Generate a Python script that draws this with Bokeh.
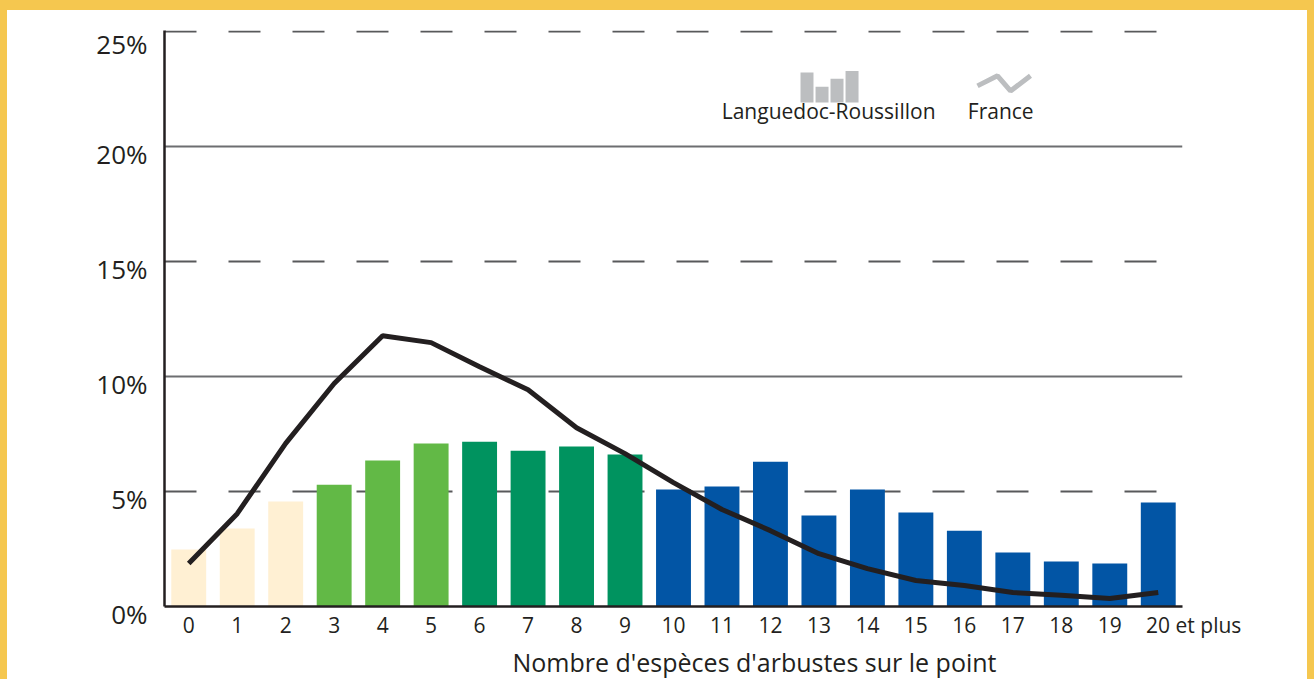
from bokeh.plotting import figure
from bokeh.models import Range1d, FixedTicker, Grid, Label, ColumnDataSource, Title
from bokeh.embed import file_html
from bokeh.resources import INLINE

# ---------------- data ----------------
categories = list(range(21))
x_tick_labels = [str(i) for i in range(20)] + ["\u00a0" * 13 + "20 et plus"]
lr_values = [2.48, 3.39, 4.57, 5.30, 6.35, 7.09, 7.17, 6.78, 6.96, 6.61,
             5.09, 5.22, 6.30, 3.96, 5.09, 4.09, 3.30, 2.35, 1.96, 1.87, 4.52]
france_values = [1.87, 4.04, 7.10, 9.70, 11.78, 11.48, 10.43, 9.43, 7.78, 6.65,
                 5.39, 4.22, 3.30, 2.30, 1.65, 1.13, 0.91, 0.61, 0.49, 0.35, 0.61]
bar_colors = (["#FFF0D3"] * 3 + ["#62B946"] * 3 + ["#00935F"] * 4 + ["#0255A5"] * 11)
y_ticks = [0, 5, 10, 15, 20, 25]
y_tick_labels = ["0%", "5%", "10%", "15%", "20%", "25%"]
solid_grid = [10, 20]
dashed_grid = [5, 15, 25]
series_names = ["Languedoc-Roussillon", "France"]
x_title = "Nombre d'espèces d'arbustes sur le point"

# legend decoration (icon geometry, in axis units)
leg_bar_x = [12.754, 13.064, 13.373, 13.683]
leg_bar_top = [23.23, 22.61, 22.96, 23.30]
leg_line_x = [16.271, 16.684, 16.952, 17.364]
leg_line_y = [22.65, 23.09, 22.43, 23.09]
leg_text_x = [13.20, 16.75]
leg_text_y = 21.57

FONT = "Open Sans"
TXT = "#231f20"
YELLOW = "#F5C74F"
GRAY_ICON = "#BCBEC0"

p = figure(width=1314, height=679,
           x_range=Range1d(-0.5, 20.5), y_range=Range1d(0, 25.06),
           output_backend="svg", toolbar_location=None,
           min_border_left=157, min_border_right=139,
           min_border_top=20, min_border_bottom=83)
p.styles = {"border-top": f"10px solid {YELLOW}",
            "border-left": f"7px solid {YELLOW}",
            "border-right": f"7px solid {YELLOW}"}
p.outline_line_color = None
p.background_fill_color = "white"
p.border_fill_color = "white"
p.xgrid.visible = False
p.ygrid.visible = False

p.add_layout(Grid(dimension=1, ticker=FixedTicker(ticks=solid_grid),
                  grid_line_color="#6d6e71", grid_line_width=2))
p.add_layout(Grid(dimension=1, ticker=FixedTicker(ticks=dashed_grid),
                  grid_line_color="#58595b", grid_line_width=2,
                  grid_line_dash="32 32"))

# bars
src = ColumnDataSource(dict(x=categories, top=lr_values, color=bar_colors))
p.vbar(x="x", top="top", bottom=0, width=0.72, fill_color="color",
       line_color=None, source=src)
# France line
p.line(categories, france_values, line_width=5, line_color=TXT)

# axes
ya = p.yaxis[0]
ya.ticker = FixedTicker(ticks=y_ticks)
ya.major_label_overrides = {t: "\n" + s for t, s in zip(y_ticks, y_tick_labels)}
ya.axis_line_color = TXT
ya.axis_line_width = 2.5
ya.major_tick_line_color = None
ya.minor_tick_line_color = None
ya.major_tick_out = 0
ya.major_tick_in = 0
ya.major_label_standoff = 17
ya.major_label_text_font = FONT
ya.major_label_text_font_size = "26px"
ya.major_label_text_line_height = 0.42
ya.major_label_text_color = TXT

xa = p.xaxis[0]
xa.ticker = FixedTicker(ticks=categories)
xa.major_label_overrides = {c: s for c, s in zip(categories, x_tick_labels)}
xa.axis_line_color = TXT
xa.axis_line_width = 2.5
xa.major_tick_line_color = None
xa.minor_tick_line_color = None
xa.major_tick_out = 0
xa.major_tick_in = 0
xa.major_label_standoff = 4
xa.major_label_text_font = FONT
xa.major_label_text_font_size = "21px"
xa.major_label_text_color = TXT

p.add_layout(Title(text=x_title, align="left", offset=348, standoff=2,
                   text_font=FONT, text_font_size="25px", text_font_style="normal",
                   text_color=TXT), "below")

# legend
p.vbar(x=leg_bar_x, top=leg_bar_top, bottom=21.93, width=0.268,
       fill_color=GRAY_ICON, line_color=None)
p.line(leg_line_x, leg_line_y, line_width=5, line_color=GRAY_ICON)
for name, lx in zip(series_names, leg_text_x):
    p.add_layout(Label(x=lx, y=leg_text_y, text=name, text_align="center",
                       text_baseline="middle", text_font=FONT, text_font_size="21px",
                       text_color=TXT))

open("out.html", "w").write(file_html(p, INLINE))
